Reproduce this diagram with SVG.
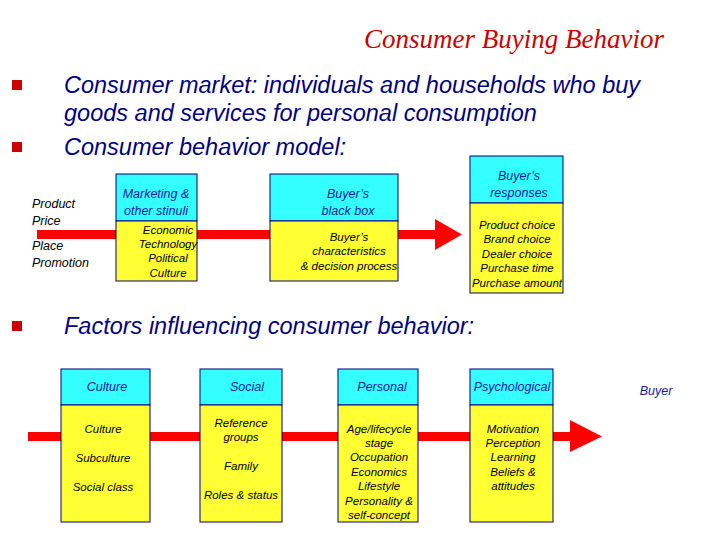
<svg xmlns="http://www.w3.org/2000/svg" width="720" height="540" viewBox="0 0 720 540">
<style>
text{font-family:"Liberation Sans",Arial,sans-serif;font-style:italic;}
.b{fill:#000080;font-size:23.5px;}
.s{fill:#000;font-size:12.5px;}
.t{fill:#000;font-size:11.5px;text-anchor:middle;}
.h{fill:#1a1a9a;font-size:12.5px;text-anchor:middle;}
.c{fill:#33ffff;stroke:#000080;stroke-width:1;}
.y{fill:#ffff33;stroke:#000080;stroke-width:1;}
.bul{fill:#cc0000;}
</style>
<rect width="720" height="540" fill="#fff"/>
<text x="664" y="48" text-anchor="end" style="font-family:'Liberation Serif',serif;font-size:27px;fill:#cc0000">Consumer Buying Behavior</text>
<rect class="bul" x="12" y="80" width="10" height="10"/>
<text class="b" x="64" y="93">Consumer market: individuals and households who buy</text>
<text class="b" x="64" y="121">goods and services for personal consumption</text>
<rect class="bul" x="12" y="142" width="10" height="10"/>
<text class="b" x="64" y="155">Consumer behavior model:</text>
<rect class="bul" x="12" y="321" width="10" height="10"/>
<text class="b" x="64" y="334">Factors influencing consumer behavior:</text>
<g id="connectors">
<rect x="37" y="230" width="400" height="9" fill="#ff0000"/>
<polygon points="435,219 462,234.5 435,250" fill="#ff0000"/>
<rect x="28" y="432" width="544" height="9" fill="#ff0000"/>
<polygon points="570,420 602,436.5 570,452" fill="#ff0000"/>
</g>
<g id="inputs">
<text class="s" x="32" y="208">Product</text><text class="s" x="32" y="225">Price</text>
<text class="s" x="32" y="250">Place</text><text class="s" x="32" y="267">Promotion</text>
</g>
<g id="stimuli">
<rect class="c" x="116" y="174" width="81" height="47"/><rect class="y" x="116" y="221" width="81" height="60"/>
<text class="h" x="156" y="198">Marketing &amp;</text><text class="h" x="156" y="215">other stinuli</text>
<text class="t" x="168" y="234">Economic</text><text class="t" x="168" y="248">Technology</text><text class="t" x="168" y="262">Political</text><text class="t" x="168" y="277">Culture</text>
</g>
<g id="blackbox">
<rect class="c" x="270" y="174" width="128" height="47"/><rect class="y" x="270" y="221" width="128" height="60"/>
<text class="h" x="348" y="198">Buyer’s</text><text class="h" x="348" y="215">black box</text>
<text class="t" x="349" y="241">Buyer’s</text><text class="t" x="349" y="255">characteristics</text><text class="t" x="349" y="270">&amp; decision process</text>
</g>
<g id="responses">
<rect class="c" x="470" y="156" width="93" height="47"/><rect class="y" x="470" y="203" width="93" height="90"/>
<text class="h" x="519" y="180">Buyer’s</text><text class="h" x="519" y="197">responses</text>
<text class="t" x="517" y="229">Product choice</text><text class="t" x="517" y="243">Brand choice</text><text class="t" x="517" y="258">Dealer choice</text><text class="t" x="517" y="272">Purchase time</text><text class="t" x="517" y="287">Purchase amount</text>
</g>
<g id="culture">
<rect class="c" x="61" y="369" width="89" height="36"/><rect class="y" x="61" y="405" width="89" height="117"/>
<text class="h" x="107" y="391">Culture</text>
<text class="t" x="103" y="433">Culture</text><text class="t" x="103" y="462">Subculture</text><text class="t" x="103" y="491">Social class</text>
</g>
<g id="social">
<rect class="c" x="200" y="369" width="82" height="36"/><rect class="y" x="200" y="405" width="82" height="117"/>
<text class="h" x="247" y="391">Social</text>
<text class="t" x="241" y="427">Reference</text><text class="t" x="241" y="441">groups</text><text class="t" x="241" y="470">Family</text><text class="t" x="241" y="499">Roles &amp; status</text>
</g>
<g id="personal">
<rect class="c" x="338" y="369" width="80" height="36"/><rect class="y" x="338" y="405" width="80" height="117"/>
<text class="h" x="382" y="391">Personal</text>
<text class="t" x="379" y="433">Age/lifecycle</text><text class="t" x="379" y="447">stage</text><text class="t" x="379" y="461">Occupation</text><text class="t" x="379" y="476">Economics</text><text class="t" x="379" y="490">Lifestyle</text><text class="t" x="379" y="505">Personality &amp;</text><text class="t" x="379" y="519">self-concept</text>
</g>
<g id="psychological">
<rect class="c" x="470" y="369" width="83" height="36"/><rect class="y" x="470" y="405" width="83" height="117"/>
<text class="h" x="512" y="391">Psychological</text>
<text class="t" x="513" y="433">Motivation</text><text class="t" x="513" y="447">Perception</text><text class="t" x="513" y="461">Learning</text><text class="t" x="513" y="476">Beliefs &amp;</text><text class="t" x="513" y="490">attitudes</text>
</g>
<g id="buyer"><text class="h" x="656" y="395">Buyer</text></g>
</svg>
